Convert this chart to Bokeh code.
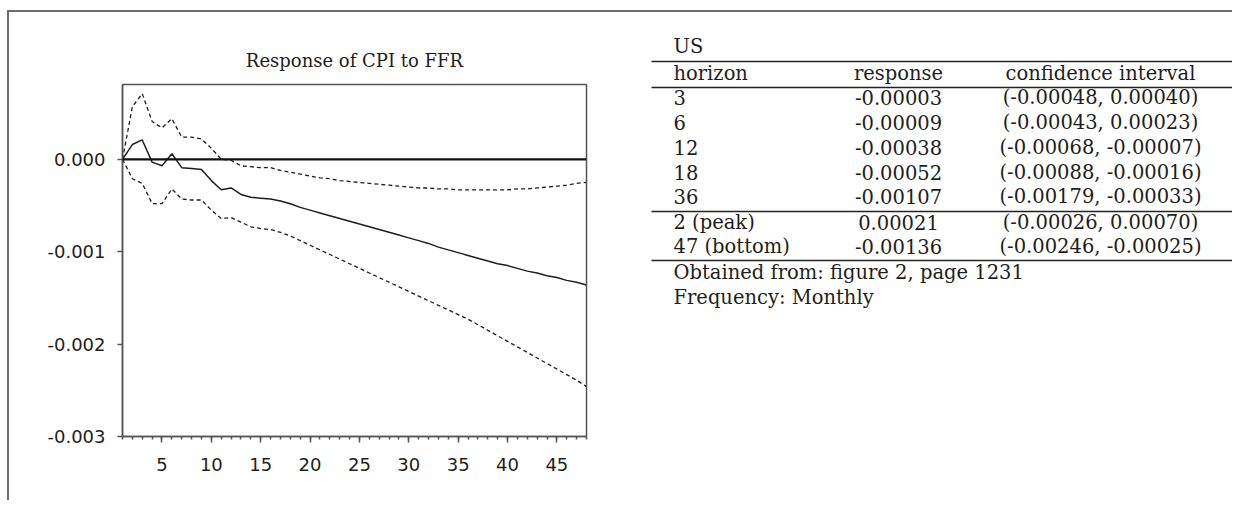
from bokeh.plotting import figure
from bokeh.models import Range1d, FixedTicker, PrintfTickFormatter, Span, Spacer
from bokeh.layouts import column, row
from bokeh.core.properties import value
from bokeh.embed import file_html
from bokeh.resources import INLINE

# ---- chart data ----
horizon = list(range(1, 49))
response = [0.0, 0.00016, 0.00021, -0.00003, -0.00007, 0.00006, -0.00009, -0.00010,
            -0.00011, -0.00023, -0.00033, -0.00031, -0.00038, -0.00041, -0.00042, -0.00043,
            -0.00045, -0.00048, -0.00052, -0.00055, -0.00058, -0.00061, -0.00064, -0.00067,
            -0.00070, -0.00073, -0.00076, -0.00079, -0.00082, -0.00085, -0.00088, -0.00091,
            -0.00095, -0.00098, -0.00101, -0.00104, -0.00107, -0.00110, -0.00113, -0.00115,
            -0.00118, -0.00121, -0.00123, -0.00126, -0.00128, -0.00131, -0.00133, -0.00136]
upper = [0.0, 0.00057, 0.00071, 0.00041, 0.00034, 0.00044, 0.00024, 0.00024,
         0.00022, 0.00012, 0.0, -0.00001, -0.00007, -0.00008, -0.00009, -0.00009,
         -0.00012, -0.00014, -0.00016, -0.00018, -0.00020, -0.00021, -0.00023, -0.00024,
         -0.00025, -0.00026, -0.00027, -0.00028, -0.00029, -0.00030, -0.00031, -0.00031,
         -0.00032, -0.00032, -0.00033, -0.00033, -0.00033, -0.00033, -0.00033, -0.00033,
         -0.00032, -0.00032, -0.00031, -0.00030, -0.00029, -0.00028, -0.00026, -0.00025]
lower = [0.0, -0.00021, -0.00026, -0.00048, -0.00048, -0.00032, -0.00043, -0.00044,
         -0.00044, -0.00055, -0.00064, -0.00063, -0.00068, -0.00073, -0.00075, -0.00076,
         -0.00079, -0.00083, -0.00088, -0.00093, -0.00098, -0.00103, -0.00108, -0.00113,
         -0.00118, -0.00123, -0.00128, -0.00133, -0.00138, -0.00143, -0.00148, -0.00153,
         -0.00158, -0.00163, -0.00168, -0.00173, -0.00179, -0.00185, -0.00191, -0.00197,
         -0.00203, -0.00209, -0.00215, -0.00221, -0.00227, -0.00233, -0.00239, -0.00246]
y_ticks = [-0.003, -0.002, -0.001, 0.0]
x_ticks = [5, 10, 15, 20, 25, 30, 35, 40, 45]
chart_title = "Response of CPI to FFR"

# ---- table data ----
table_title = "US"
table_header = ["horizon", "response", "confidence interval"]
tab_horizon = ["3", "6", "12", "18", "36"]
tab_response = ["-0.00003", "-0.00009", "-0.00038", "-0.00052", "-0.00107"]
tab_ci = ["(-0.00048, 0.00040)", "(-0.00043, 0.00023)", "(-0.00068, -0.00007)",
          "(-0.00088, -0.00016)", "(-0.00179, -0.00033)"]
ext_horizon = ["2 (peak)", "47 (bottom)"]
ext_response = ["0.00021", "-0.00136"]
ext_ci = ["(-0.00026, 0.00070)", "(-0.00246, -0.00025)"]
notes = ["Obtained from: figure 2, page 1231", "Frequency: Monthly"]

AX = "#555555"
INK = "#1e1e1e"

ROW_H = 488          # height of the row holding chart + table (page y 12 .. 500)
TOTAL_W = 1232

# ---------------- chart ----------------
p = figure(width=630, height=ROW_H, output_backend="svg", toolbar_location=None,
           x_range=Range1d(1, 48), y_range=Range1d(-0.003, 0.00081),
           min_border_left=113, min_border_right=53, min_border_top=72,
           min_border_bottom=ROW_H - 72 - 352,
           title=chart_title)
p.frame_align = False
p.title.align = "center"
p.title.text_font = "DejaVu Serif"
p.title.text_font_style = "normal"
p.title.text_font_size = "18px"
p.title.text_color = INK
p.title.standoff = 28
p.grid.visible = False
p.outline_line_color = AX
p.outline_line_width = 1.5
p.background_fill_color = "white"
p.border_fill_color = "white"

p.xaxis.ticker = FixedTicker(ticks=x_ticks, minor_ticks=horizon)
p.yaxis.ticker = FixedTicker(ticks=y_ticks, minor_ticks=[])
p.yaxis.formatter = PrintfTickFormatter(format="%.3f")
for ax in (p.xaxis, p.yaxis):
    ax.axis_line_color = AX
    ax.axis_line_width = 1.5
    ax.major_tick_line_color = AX
    ax.major_tick_line_width = 1.5
    ax.minor_tick_line_color = AX
    ax.minor_tick_line_width = 1.5
    ax.major_tick_in = 0
    ax.minor_tick_in = 0
    ax.major_label_text_font = "DejaVu Sans"
    ax.major_label_text_font_size = "18px"
    ax.major_label_text_color = INK
p.xaxis.major_tick_out = 6
p.xaxis.minor_tick_out = 3
p.yaxis.major_tick_out = 5
p.xaxis.major_label_standoff = 15
p.yaxis.major_label_standoff = 12

p.add_layout(Span(location=0, dimension="width", line_color="#111111", line_width=2.2))
p.line(horizon, upper, line_color=INK, line_width=1.3, line_dash="4 3")
p.line(horizon, lower, line_color=INK, line_width=1.3, line_dash="4 3")
p.line(horizon, response, line_color=INK, line_width=1.5)

# ---------------- table ----------------
t_left = 639
t = figure(width=TOTAL_W - t_left, height=ROW_H, output_backend="svg", toolbar_location=None,
           x_range=Range1d(t_left, TOTAL_W), y_range=Range1d(12 + ROW_H, 12),
           x_axis_location=None, y_axis_location=None,
           min_border=0, min_border_left=0, min_border_right=0,
           min_border_top=0, min_border_bottom=0)
t.frame_align = False
t.grid.visible = False
t.outline_line_color = None
t.background_fill_color = "white"
t.border_fill_color = "white"

FONT = value("DejaVu Serif")
FS = "19.5px"
x_left, x_resp, x_ci = 673, 898, 1100
rule_left, rule_right = 651, 1232

t.segment(x0=[rule_left] * 4, y0=[61, 87, 211, 260], x1=[rule_right] * 4, y1=[61, 87, 211, 260],
          line_color="#222222", line_width=1.6)

t.text(x=[x_left], y=[46], text=[table_title], text_font=FONT, text_font_size=FS,
       text_color=INK, text_baseline="middle", text_align="left")
t.text(x=[x_left, x_resp, x_ci], y=[73, 73, 73], text=table_header, text_font=FONT,
       text_font_size=FS, text_color=INK, text_baseline="middle",
       text_align=["left", "center", "center"])

row_y = [97, 122, 147, 172, 196]
t.text(x=[x_left] * 5, y=row_y, text=tab_horizon, text_font=FONT, text_font_size=FS,
       text_color=INK, text_baseline="middle", text_align="left")
t.text(x=[x_resp] * 5, y=row_y, text=tab_response, text_font=FONT, text_font_size=FS,
       text_color=INK, text_baseline="middle", text_align="center")
t.text(x=[x_ci] * 5, y=row_y, text=tab_ci, text_font=FONT, text_font_size=FS,
       text_color=INK, text_baseline="middle", text_align="center")

ext_y = [222, 246]
t.text(x=[x_left] * 2, y=ext_y, text=ext_horizon, text_font=FONT, text_font_size=FS,
       text_color=INK, text_baseline="middle", text_align="left")
t.text(x=[x_resp] * 2, y=ext_y, text=ext_response, text_font=FONT, text_font_size=FS,
       text_color=INK, text_baseline="middle", text_align="center")
t.text(x=[x_ci] * 2, y=ext_y, text=ext_ci, text_font=FONT, text_font_size=FS,
       text_color=INK, text_baseline="middle", text_align="center")

t.text(x=[x_left] * 2, y=[272, 297], text=notes, text_font=FONT, text_font_size=FS,
       text_color=INK, text_baseline="middle", text_align="left")

# ---------------- frame lines & layout ----------------
top_gap = Spacer(width=TOTAL_W, height=10)
top_line = row(Spacer(width=7, height=2),
               Spacer(width=TOTAL_W - 7, height=2, styles={"background-color": "#6e6e6e"}))
left_gap = Spacer(width=7, height=ROW_H)
left_line = Spacer(width=2, height=ROW_H, styles={"background-color": "#6e6e6e"})

layout = column(top_gap, top_line, row(left_gap, left_line, p, t))

open("out.html", "w").write(file_html(layout, INLINE))
